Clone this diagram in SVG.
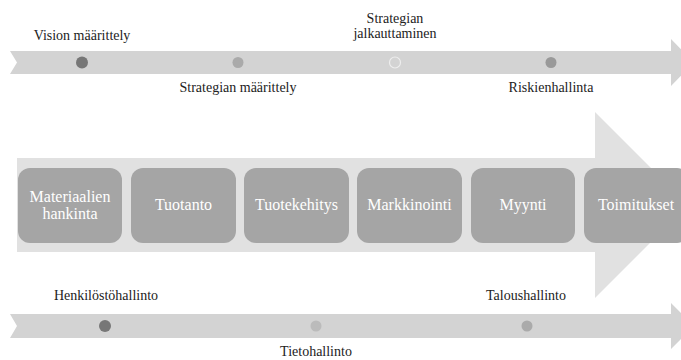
<svg xmlns="http://www.w3.org/2000/svg" width="681" height="360" viewBox="0 0 681 360">
  <style>
    .band { fill: #d3d3d3; }
    .big { fill: #e1e1e1; }
    .box { fill: #a5a5a5; }
    .lbl { font-size: 14px; fill: #222; text-anchor: middle; }
    .btxt { font-size: 16px; fill: #ffffff; text-anchor: middle; }
  </style>
  <rect width="681" height="360" fill="#ffffff"/>

  <!-- connectors: timeline bands and the process arrow -->
  <g id="connectors">
    <path class="band" d="M10,51 L671,51 L671,39 L694,62.5 L671,86 L671,74 L10,74 L17,62.5 Z"/>
    <path class="big" d="M17,158 L595,158 L595,112 L688,205 L595,298 L595,252 L17,252 Z"/>
    <path class="band" d="M10,314 L671,314 L671,303 L694,326 L671,349 L671,338 L10,338 L17,326 Z"/>
  </g>

  <g font-family="Liberation Serif, Times New Roman, serif">
  <!-- top timeline milestones -->
  <g id="vision">
    <circle cx="82" cy="62.5" r="6" fill="#777777"/>
    <text class="lbl" x="82" y="40">Vision määrittely</text>
  </g>
  <g id="strategia-maarittely">
    <circle cx="238" cy="62.5" r="5.5" fill="#aaaaaa"/>
    <text class="lbl" x="238" y="92">Strategian määrittely</text>
  </g>
  <g id="strategia-jalkautus">
    <circle cx="395" cy="62.5" r="5.5" fill="none" stroke="#eeeeee" stroke-width="1.2"/>
    <text class="lbl" x="395" y="23">Strategian</text>
    <text class="lbl" x="395" y="38">jalkauttaminen</text>
  </g>
  <g id="riskienhallinta">
    <circle cx="551" cy="62.5" r="5.5" fill="#999999"/>
    <text class="lbl" x="551" y="92">Riskienhallinta</text>
  </g>

  <!-- process steps -->
  <g id="materiaalit">
    <rect class="box" x="18" y="168" width="104" height="75" rx="12"/>
    <text class="btxt" x="70" y="202">Materiaalien</text>
    <text class="btxt" x="70" y="219">hankinta</text>
  </g>
  <g id="tuotanto">
    <rect class="box" x="131" y="168" width="105" height="75" rx="12"/>
    <text class="btxt" x="183.5" y="210">Tuotanto</text>
  </g>
  <g id="tuotekehitys">
    <rect class="box" x="244" y="168" width="105" height="75" rx="12"/>
    <text class="btxt" x="296.5" y="210">Tuotekehitys</text>
  </g>
  <g id="markkinointi">
    <rect class="box" x="357" y="168" width="105" height="75" rx="12"/>
    <text class="btxt" x="409.5" y="210">Markkinointi</text>
  </g>
  <g id="myynti">
    <rect class="box" x="471" y="168" width="104" height="75" rx="12"/>
    <text class="btxt" x="523" y="210">Myynti</text>
  </g>
  <g id="toimitukset">
    <rect class="box" x="584" y="168" width="105" height="75" rx="12"/>
    <text class="btxt" x="636" y="210">Toimitukset</text>
  </g>

  <!-- bottom timeline milestones -->
  <g id="henkilosto">
    <circle cx="105" cy="326" r="6" fill="#777777"/>
    <text class="lbl" x="106" y="300">Henkilöstöhallinto</text>
  </g>
  <g id="tietohallinto">
    <circle cx="316" cy="326" r="5.5" fill="#bbbbbb"/>
    <text class="lbl" x="316" y="356">Tietohallinto</text>
  </g>
  <g id="taloushallinto">
    <circle cx="527" cy="326" r="5.5" fill="#aaaaaa"/>
    <text class="lbl" x="526" y="300">Taloushallinto</text>
  </g>
  </g>
</svg>
